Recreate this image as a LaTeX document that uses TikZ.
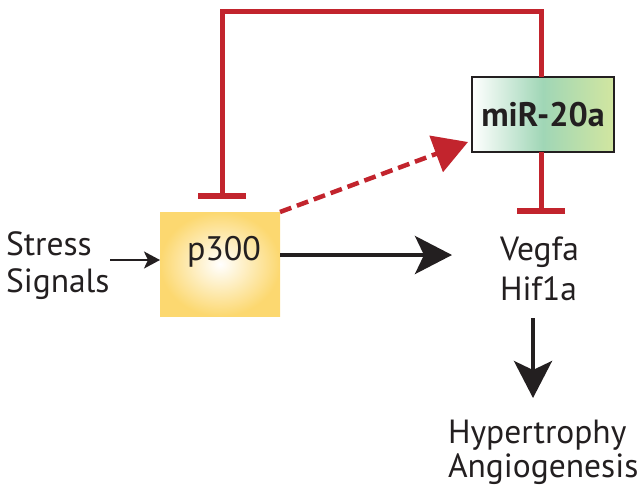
\documentclass[tikz,border=0pt]{standalone}
\usepackage{fontspec}
\setmainfont{PT Sans}
\usetikzlibrary{arrows.meta,calc}
\definecolor{inhred}{RGB}{194,36,45}
\definecolor{txt}{RGB}{35,31,32}
\definecolor{pyellow}{RGB}{252,216,112}
\definecolor{mgreen}{RGB}{160,214,182}
\definecolor{mlime}{RGB}{210,230,160}
\begin{document}
\begin{tikzpicture}[x=1pt,y=-1pt,
  every node/.style={inner sep=0pt, outer sep=0pt, text=txt},
  lbl/.style={font=\fontsize{33.5}{37}\selectfont, anchor=base west},
  p300box/.style={rectangle, minimum width=120pt, minimum height=104pt,
    inner color=white, outer color=pyellow},
  mirbox/.style={rectangle, draw=txt, line width=2pt, minimum width=142pt, minimum height=75pt,
    left color=white, right color=mlime, middle color=mgreen,
    font=\fontsize{34}{37}\selectfont\bfseries},
  inhib/.style={draw=inhred, line width=5pt, -{Bar[width=48pt,line width=6pt]}},
  act/.style={draw=txt, line width=4pt, -{Stealth[length=37pt,width=38pt,inset=9pt]}},
  thinact/.style={draw=txt, line width=2pt, -{Stealth[length=16pt,width=17pt,inset=4pt]}},
  dashact/.style={draw=inhred, line width=4.5pt, dash pattern=on 12pt off 6pt,
    -{Triangle[length=34pt,width=38pt]}}]
\useasboundingbox (0,0) rectangle (644,499);

\node[p300box] (p300) at (220,264) {};
\node[font=\fontsize{34}{37}\selectfont, anchor=base] (p300lbl) at (224,260) {p300};
\node[mirbox] (mir) at (543,114.5) {miR-20a};

\node[lbl] (stress) at (6,255) {Stress};
\node[lbl] (signals) at (6,292) {Signals};
\node[lbl] (vegfa) at (500,260) {Vegfa};
\node[lbl] (hif) at (500,300) {Hif1a};
\node[lbl] (hyper) at (448,443) {Hypertrophy};
\node[lbl] (angio) at (448,477) {Angiogenesis};

\coordinate (stressEnd) at (110,260);
\coordinate (topR) at (541,11);
\coordinate (topL) at (222,11);
\coordinate (p300bar) at (222,199);
\coordinate (vegbar) at (541,214);
\coordinate (actTip) at (452,255);
\coordinate (downStart) at (533,318);
\coordinate (downTip) at (533,398);
\coordinate (dashTip) at ($(mir.south west)+(-4,-10)$);

% connectors
\draw[thinact] (stressEnd) -- (p300.west |- stressEnd);
\draw[act] (p300.east |- actTip) -- (actTip);
\draw[act] (downStart) -- (downTip);
\draw[inhib] (mir.north -| topR) -- (topR) -- (topL) -- (p300bar);
\draw[inhib] (mir.south -| vegbar) -- (vegbar);
\draw[dashact] (p300.north east) -- (dashTip);
\end{tikzpicture}
\end{document}
